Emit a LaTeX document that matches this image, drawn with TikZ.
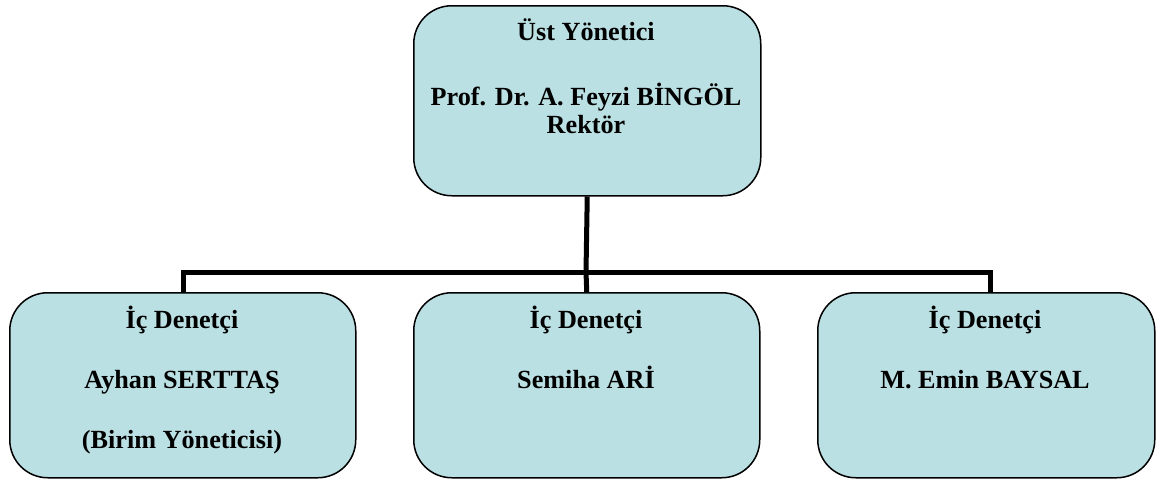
\documentclass[tikz,border=0pt]{standalone}
\usepackage{fontspec}
\setmainfont{Liberation Serif}
\definecolor{boxfill}{HTML}{BBE0E3}
\begin{document}
\begin{tikzpicture}[x=1pt,y=-1pt,
  orgbox/.style={draw=black,line width=1.5pt,fill=boxfill,rounded corners=38pt,inner sep=0pt,anchor=north west},
  lbl/.style={font=\bfseries\fontsize{26.2}{30}\selectfont,anchor=base,inner sep=0pt},
  conn/.style={line width=5pt,draw=black}]
\useasboundingbox (0,0) rectangle (1157,479);
\clip (0,0) rectangle (1157,479);
\node[orgbox,minimum width=347pt,minimum height=190pt] (top) at (413,5) {};
\node[orgbox,minimum width=346pt,minimum height=185pt] (b1) at (9,292) {};
\node[orgbox,minimum width=346pt,minimum height=185pt] (b2) at (413,292) {};
\node[orgbox,minimum width=337pt,minimum height=185pt] (b3) at (817,292) {};
\coordinate (bus) at (586,272);
\draw[conn] (top.south) -- (bus);
\draw[conn] (b1.north -| 183,0) |- (bus) -| (b3.north -| 990,0);
\draw[conn] (bus) -- (b2.north);
\node[lbl] (t1) at (586,40) {Üst Yönetici};
\node[lbl] (t2) at (586,105) {Prof. Dr. A. Feyzi BİNGÖL};
\node[lbl] (t3) at (586,133) {Rektör};
\node[lbl] (l1) at (182,328) {İç Denetçi};
\node[lbl] (l2) at (182,388) {Ayhan SERTTAŞ};
\node[lbl] (l3) at (182,448) {(Birim Yöneticisi)};
\node[lbl] (m1) at (586,328) {İç Denetçi};
\node[lbl] (m2) at (586,388) {Semiha ARİ};
\node[lbl] (r1) at (985,328) {İç Denetçi};
\node[lbl] (r2) at (985,388) {M. Emin BAYSAL};
\end{tikzpicture}
\end{document}
